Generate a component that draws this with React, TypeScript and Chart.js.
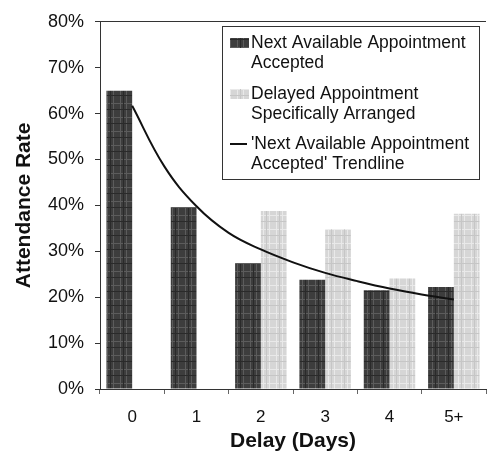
import React, { useEffect, useRef } from "react";
import { Chart, registerables } from "chart.js";

Chart.register(...registerables);

const categories = ["0", "1", "2", "3", "4", "5+"];
const nextAvailable = [65.0, 39.6, 27.4, 23.8, 21.5, 22.2];
const delayedArranged = [null, null, 38.8, 34.8, 24.1, 38.2];
const trendX = [0, 0.5, 1, 1.5, 2, 2.5, 3, 3.5, 4, 4.5, 5];
const trendY = [61.7, 48.5, 39.8, 34.0, 30.4, 27.6, 25.3, 23.5, 21.9, 20.6, 19.5];
const yTicks = [0, 10, 20, 30, 40, 50, 60, 70, 80];
const labelNext = ["Next Available Appointment", "Accepted"];
const labelDelayed = ["Delayed Appointment", "Specifically Arranged"];
const labelTrend = ["'Next Available Appointment", "Accepted' Trendline"];
const xTitle = "Delay (Days)";
const yTitle = "Attendance Rate";

const FONT = "'Liberation Sans', Arial, sans-serif";

function makePattern(base: string, lightLine: string, darkLine: string): CanvasPattern | string {
  const c = document.createElement("canvas");
  c.width = 13;
  c.height = 14;
  const g = c.getContext("2d");
  if (!g) return base;
  g.fillStyle = base;
  g.fillRect(0, 0, 13, 14);
  g.fillStyle = lightLine;
  g.fillRect(3, 0, 1, 14);
  g.fillRect(9, 0, 1, 14);
  g.fillRect(0, 5, 13, 1);
  g.fillStyle = darkLine;
  g.fillRect(6, 0, 1, 14);
  g.fillRect(0, 11, 13, 1);
  const p = g.createPattern(c, "repeat");
  return p || base;
}

export default function App() {
  const ref = useRef<HTMLCanvasElement | null>(null);

  useEffect(() => {
    if (!ref.current) return;
    const darkFill = makePattern("#3d3d3d", "#5c5c5c", "#2a2a2a");
    const lightFill = makePattern("#d6d6d6", "#e9e9e9", "#c6c6c6");

    const legendPlugin = {
      id: "boxLegend",
      afterDraw(chart: any) {
        const ctx = chart.ctx;
        ctx.save();
        const bx = 222, by = 26, bw = 257, bh = 153;
        ctx.fillStyle = "#ffffff";
        ctx.fillRect(bx, by, bw, bh);
        ctx.strokeStyle = "#333333";
        ctx.lineWidth = 1;
        ctx.strokeRect(bx + 0.5, by + 0.5, bw, bh);
        const items = [
          { lines: chart.data.datasets[0].label.split("\n"), kind: "dark", top: 43 },
          { lines: chart.data.datasets[1].label.split("\n"), kind: "light", top: 94 },
          { lines: chart.data.datasets[2].label.split("\n"), kind: "line", top: 144 },
        ];
        ctx.font = `17.5px ${FONT}`;
        ctx.textBaseline = "middle";
        ctx.textAlign = "left";
        for (const it of items) {
          if (it.kind === "line") {
            ctx.strokeStyle = "#111111";
            ctx.lineWidth = 2;
            ctx.beginPath();
            ctx.moveTo(230, it.top);
            ctx.lineTo(247, it.top);
            ctx.stroke();
          } else {
            ctx.fillStyle = it.kind === "dark" ? darkFill : lightFill;
            ctx.fillRect(230, it.top - 5, 19, 10);
          }
          ctx.fillStyle = "#111111";
          it.lines.forEach((ln: string, i: number) => {
            ctx.fillText(ln, 251, it.top + i * 20);
          });
        }
        ctx.restore();
      },
    };

    const chart = new Chart(ref.current, {
      type: "bar",
      data: {
        datasets: [
          {
            label: labelNext.join("\n"),
            data: categories.map((_, i) => ({ x: i, y: nextAvailable[i] })) as any,
            backgroundColor: darkFill as any,
            borderWidth: 0,
            categoryPercentage: 0.8,
            barPercentage: 1.0,
            order: 1,
          },
          {
            label: labelDelayed.join("\n"),
            data: categories.map((_, i) => ({ x: i, y: delayedArranged[i] })) as any,
            backgroundColor: lightFill as any,
            borderWidth: 0,
            categoryPercentage: 0.8,
            barPercentage: 1.0,
            order: 1,
          },
          {
            type: "line" as any,
            label: labelTrend.join("\n"),
            data: trendX.map((x, i) => ({ x, y: trendY[i] })) as any,
            borderColor: "#111111",
            borderWidth: 2,
            pointRadius: 0,
            tension: 0.4,
            fill: false,
            order: 0,
          } as any,
        ],
      },
      options: {
        animation: false,
        responsive: false,
        devicePixelRatio: 1,
        layout: { padding: { top: 18, right: 1, left: 0, bottom: 0 } },
        plugins: {
          legend: { display: false },
          tooltip: { enabled: false },
        },
        scales: {
          x: {
            type: "linear",
            min: -0.5,
            max: 5.5,
            offset: false,
            afterBuildTicks: (s: any) => {
              s.ticks = categories.map((_, i) => ({ value: i }));
            },
            grid: {
              offset: true,
              drawOnChartArea: false,
              drawTicks: true,
              tickLength: 5,
              color: "#666666",
            },
            border: { display: true, color: "#333333", width: 1 },
            ticks: {
              color: "#111111",
              font: { family: FONT, size: 17 },
              padding: 13,
              maxRotation: 0,
              autoSkip: false,
              callback: (v: any) => categories[Math.round(Number(v))] ?? "",
            },
            title: {
              display: true,
              text: xTitle,
              color: "#111111",
              font: { family: FONT, size: 21, weight: "bold" },
              padding: { top: 0, bottom: 3 },
            },
            afterFit: (s: any) => {
              s.height = 68;
            },
          },
          y: {
            min: 0,
            max: 80,
            afterBuildTicks: (s: any) => {
              s.ticks = yTicks.map((v) => ({ value: v }));
            },
            grid: {
              drawTicks: true,
              tickLength: 5,
              color: (c: any) => (c.tick && c.tick.value === 80 ? "#333333" : "rgba(0,0,0,0)"),
              tickColor: "#333333",
            },
            border: { display: true, color: "#333333", width: 1 },
            ticks: {
              color: "#111111",
              font: { family: FONT, size: 18 },
              padding: 11,
              callback: (v: any) => `${v}%`,
            },
            title: {
              display: true,
              text: yTitle,
              color: "#111111",
              font: { family: FONT, size: 21, weight: "bold" },
              padding: { top: 12, bottom: 0 },
            },
            afterFit: (s: any) => {
              s.width = 100;
            },
          },
        },
      },
      plugins: [legendPlugin],
    });
    return () => chart.destroy();
  }, []);

  return (
    <div style={{ position: "fixed", left: 0, top: 0, width: 487, height: 457, background: "#fff" }}>
      <canvas ref={ref} width={487} height={457} style={{ width: 487, height: 457, display: "block" }} />
    </div>
  );
}
